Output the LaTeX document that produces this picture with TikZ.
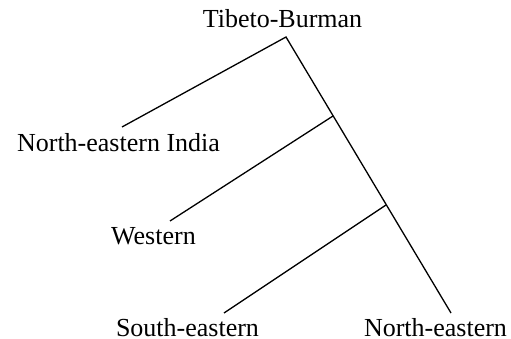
\documentclass[tikz,border=0pt]{standalone}
\usepackage{fontspec}
\setmainfont{Liberation Serif}
\begin{document}
\begin{tikzpicture}[x=1pt,y=-1pt,
  lbl/.style={anchor=base,inner sep=0pt,font=\fontsize{26}{30}\selectfont},
  branch/.style={draw=black,line width=1.3pt}]
\useasboundingbox (0,0) rectangle (511,339);
\node[lbl] (tb) at (282.5,28) {Tibeto-Burman};
\node[lbl] (nei) at (118.5,152) {North-eastern India};
\node[lbl] (we) at (153.5,244) {Western};
\node[lbl] (se) at (187.5,336) {South-eastern};
\node[lbl] (ne) at (435.5,336) {North-eastern};
\coordinate (apex) at (286,37);
\coordinate (b1) at (333,116);
\coordinate (b2) at (386,205);
\coordinate (neiE) at (122,127);
\coordinate (weE) at (170,221);
\coordinate (seE) at (224,313);
\coordinate (neE) at (451,313);
\draw[branch] (neiE) -- (apex) -- (neE);
\draw[branch] (b1) -- (weE);
\draw[branch] (b2) -- (seE);
\end{tikzpicture}
\end{document}
